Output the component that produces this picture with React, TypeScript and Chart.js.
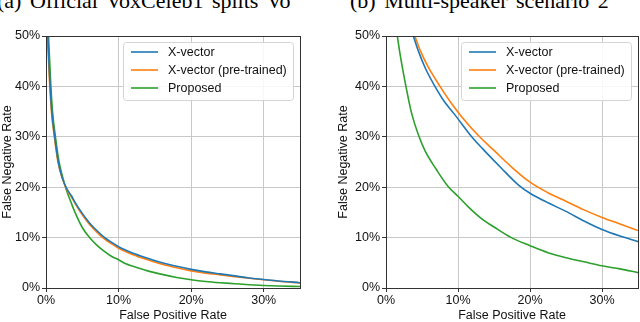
import React, { useEffect, useRef } from "react";
import { Chart, registerables } from "chart.js";

Chart.register(...registerables);

// ---------- shared ----------
const xTickValues = [0, 10, 20, 30];
const yTickValues = [0, 10, 20, 30, 40, 50];
const seriesLabels = ["X-vector", "X-vector (pre-trained)", "Proposed"];
const seriesColors = ["#1f77b4", "#ff7f0e", "#2ca02c"];
const xAxisTitle = "False Positive Rate";
const yAxisTitle = "False Negative Rate";
const captionA = "(a) Official VoxCeleb1 splits Vo";
const captionB = "(b) Multi-speaker scenario 2";

// ---------- (a) Official VoxCeleb1 splits ----------
const aXvecFpr = [0.25, 0.5, 0.8, 1.2, 1.7, 2.2, 2.9, 3.5, 4, 5, 6, 7, 8, 9, 10, 12, 14, 16, 18, 20, 22, 24, 26, 28, 30, 32, 35];
const aXvecFnr = [50, 42, 35, 30, 25, 22, 19.6, 18.3, 17.0, 14.8, 12.9, 11.4, 10.1, 9.1, 8.2, 6.9, 5.9, 5.0, 4.3, 3.7, 3.2, 2.8, 2.4, 2.0, 1.7, 1.4, 1.05];
const aPreFpr = [0.2, 0.45, 0.75, 1.15, 1.65, 2.2, 2.9, 3.5, 4, 5, 6, 7, 8, 9, 10, 12, 14, 16, 18, 20, 22, 24, 26, 28, 30, 32, 35];
const aPreFnr = [50, 42, 35, 30, 25, 22, 19.4, 18.1, 16.8, 14.5, 12.6, 11.1, 9.8, 8.8, 7.9, 6.6, 5.6, 4.7, 4.0, 3.4, 2.95, 2.6, 2.25, 1.95, 1.65, 1.35, 1.0];
const aPropFpr = [0.35, 0.6, 0.9, 1.3, 1.8, 2.3, 2.8, 3.5, 4, 5, 6, 7, 8, 9, 10, 11, 12, 14, 16, 18, 20, 22, 24, 26, 28, 30, 32, 35];
const aPropFnr = [50, 42, 35, 30, 25, 22, 19.5, 16.8, 15.0, 12.0, 10.0, 8.5, 7.3, 6.3, 5.6, 4.8, 4.3, 3.4, 2.7, 2.1, 1.65, 1.3, 1.05, 0.85, 0.65, 0.5, 0.4, 0.3];

// ---------- (b) Multi-speaker scenario 2 ----------
const bXvecFpr = [3.8, 4.5, 5.5, 6.8, 8, 9.5, 11.9, 13.5, 16, 18.5, 20, 22.5, 25, 27.5, 30, 32.5, 35];
const bXvecFnr = [50, 47, 43.5, 40, 37.2, 34.5, 30, 27.5, 23.8, 20.3, 18.8, 16.9, 15.2, 13.3, 11.6, 10.3, 9.2];
const bPreFpr = [4.0, 4.8, 5.8, 7.5, 9, 10.5, 13, 15, 17.6, 20, 22.5, 25, 27.5, 30, 32.5, 35];
const bPreFnr = [50, 47, 44, 40, 36.8, 34, 30, 27.3, 23.8, 21.0, 18.9, 17.2, 15.5, 14.0, 12.7, 11.4];
const bPropFpr = [1.57, 2.0, 2.77, 3.5, 4.6, 5.5, 7.0, 8.6, 10, 11.5, 13.5, 15, 17.4, 20, 22.5, 25, 27.5, 30, 32.5, 35];
const bPropFnr = [50, 46, 40, 35, 30, 27, 23.5, 20.2, 18.2, 16, 13.5, 12.1, 10, 8.4, 7.0, 6.0, 5.2, 4.4, 3.8, 3.05];

const FONT = '"Liberation Sans", Arial, Helvetica, sans-serif';

function pairs(xs: number[], ys: number[]) {
  return xs.map((x, i) => ({ x, y: ys[i] }));
}

const framePlugin = {
  id: "frame",
  afterDatasetsDraw(chart: any) {
    const { ctx, chartArea } = chart;
    ctx.save();
    ctx.strokeStyle = "#333333";
    ctx.lineWidth = 1;
    ctx.strokeRect(
      Math.round(chartArea.left) + 0.5,
      Math.round(chartArea.top) + 0.5,
      Math.round(chartArea.right - chartArea.left),
      Math.round(chartArea.bottom - chartArea.top)
    );
    ctx.restore();
  },
};

const boxLegendPlugin = {
  id: "boxLegend",
  afterDraw(chart: any) {
    const { ctx, chartArea } = chart;
    const items = chart.data.datasets;
    ctx.save();
    ctx.font = `12.5px ${FONT}`;
    let maxW = 0;
    items.forEach((d: any) => {
      maxW = Math.max(maxW, ctx.measureText(d.label).width);
    });
    const padL = 8, lineLen = 27, gap = 10, padR = 6, rowH = 18, padT = 10, padB = 12;
    const w = Math.round(padL + lineLen + gap + maxW + padR);
    const h = padT + rowH * (items.length - 1) + padB;
    const x = Math.round(chartArea.right - 7 - w);
    const y = Math.round(chartArea.top + 6);
    ctx.beginPath();
    (ctx as any).roundRect(x + 0.5, y + 0.5, w, h, 3);
    ctx.fillStyle = "rgba(255,255,255,0.85)";
    ctx.fill();
    ctx.strokeStyle = "#d4d4d4";
    ctx.lineWidth = 1;
    ctx.stroke();
    items.forEach((d: any, i: number) => {
      const cy = y + padT + i * rowH;
      ctx.beginPath();
      ctx.strokeStyle = d.borderColor;
      ctx.lineWidth = 1.6;
      ctx.moveTo(x + padL, cy);
      ctx.lineTo(x + padL + lineLen, cy);
      ctx.stroke();
      ctx.fillStyle = "#111";
      ctx.textBaseline = "middle";
      ctx.textAlign = "left";
      ctx.fillText(d.label, x + padL + lineLen + gap, cy + 0.5);
    });
    ctx.restore();
  },
};

function makeConfig(
  series: { x: number; y: number }[][],
  yAxisWidth: number,
  yTitlePad: number,
  rightPad: number
): any {
  return {
    type: "line",
    data: {
      datasets: series.map((d, i) => ({
        label: seriesLabels[i],
        data: d,
        borderColor: seriesColors[i],
        backgroundColor: seriesColors[i],
        borderWidth: 1.6,
        pointRadius: 0,
        fill: false,
        cubicInterpolationMode: "monotone",
      })),
    },
    options: {
      responsive: false,
      animation: false,
      devicePixelRatio: 1,
      layout: { padding: { top: 36, right: rightPad, bottom: 0, left: 0 } },
      plugins: { legend: { display: false }, tooltip: { enabled: false } },
      scales: {
        x: {
          type: "linear",
          min: 0,
          max: 35,
          afterBuildTicks: (s: any) => {
            s.ticks = xTickValues.map((v) => ({ value: v }));
          },
          afterFit: (s: any) => {
            s.height = 34;
          },
          border: { display: false },
          grid: {
            color: "#c8c8c8",
            lineWidth: 1,
            drawTicks: true,
            tickLength: 4,
            tickColor: "#333333",
            tickWidth: 1,
          },
          ticks: {
            padding: 1,
            color: "#111",
            font: { family: FONT, size: 12.5 },
            maxRotation: 0,
            callback: (v: any) => `${v}%`,
          },
          title: {
            display: true,
            text: xAxisTitle,
            color: "#111",
            font: { family: FONT, size: 12.5, lineHeight: 1 },
            padding: { top: 0, bottom: 0 },
          },
        },
        y: {
          type: "linear",
          min: 0,
          max: 50,
          afterBuildTicks: (s: any) => {
            s.ticks = yTickValues.map((v) => ({ value: v }));
          },
          afterFit: (s: any) => {
            s.width = yAxisWidth;
          },
          border: { display: false },
          grid: {
            color: "#c8c8c8",
            lineWidth: 1,
            drawTicks: true,
            tickLength: 4,
            tickColor: "#333333",
            tickWidth: 1,
          },
          ticks: {
            padding: 2,
            color: "#111",
            font: { family: FONT, size: 12.5 },
            callback: (v: any) => `${v}%`,
          },
          title: {
            display: true,
            text: yAxisTitle,
            color: "#111",
            font: { family: FONT, size: 12.5, lineHeight: 1 },
            padding: { top: yTitlePad, bottom: 0 },
          },
        },
      },
    },
    plugins: [framePlugin, boxLegendPlugin],
  };
}

function DetChart(props: {
  series: { x: number; y: number }[][];
  yAxisWidth: number;
  yTitlePad: number;
  rightPad: number;
  left: number;
}) {
  const ref = useRef<HTMLCanvasElement | null>(null);
  useEffect(() => {
    if (!ref.current) return;
    const chart = new Chart(
      ref.current,
      makeConfig(props.series, props.yAxisWidth, props.yTitlePad, props.rightPad)
    );
    return () => chart.destroy();
  }, []);
  return (
    <canvas
      ref={ref}
      width={320}
      height={322}
      style={{ position: "absolute", left: props.left, top: 0, width: 320, height: 322 }}
    />
  );
}

export default function App() {
  const captionStyle: React.CSSProperties = {
    position: "absolute",
    top: -9.5,
    fontFamily: '"Liberation Serif", "Times New Roman", serif',
    fontSize: 22,
    lineHeight: "20px",
    wordSpacing: 3,
    whiteSpace: "nowrap",
    color: "#000",
  };
  return (
    <div
      style={{
        position: "fixed",
        left: 0,
        top: 0,
        width: 640,
        height: 322,
        overflow: "hidden",
        background: "#fff",
      }}
    >
      <div style={{ ...captionStyle, left: -3 }}>{captionA}</div>
      <div style={{ ...captionStyle, left: 350 }}>{captionB}</div>
      <DetChart
        series={[pairs(aXvecFpr, aXvecFnr), pairs(aPreFpr, aPreFnr), pairs(aPropFpr, aPropFnr)]}
        yAxisWidth={46}
        yTitlePad={1.25}
        rightPad={20}
        left={0}
      />
      <DetChart
        series={[pairs(bXvecFpr, bXvecFnr), pairs(bPreFpr, bPreFnr), pairs(bPropFpr, bPropFnr)]}
        yAxisWidth={66}
        yTitlePad={17.75}
        rightPad={2}
        left={320}
      />
    </div>
  );
}
